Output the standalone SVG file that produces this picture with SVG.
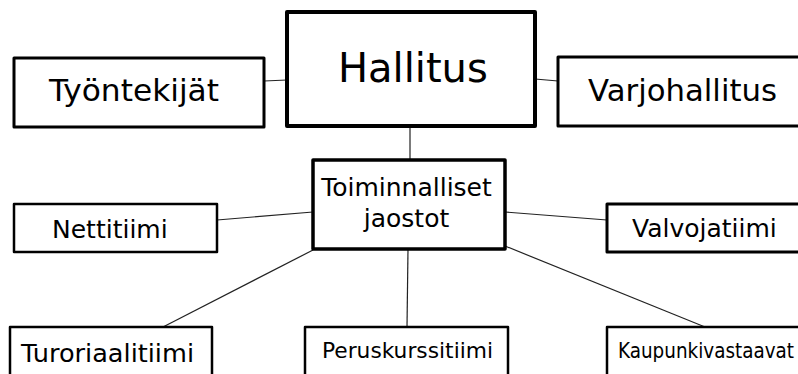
<svg xmlns="http://www.w3.org/2000/svg" width="798" height="374" viewBox="0 0 798 374">
<style>
.box{fill:#fff;stroke:#000;stroke-linejoin:round}
.t{font-family:"DejaVu Sans","Liberation Sans",sans-serif;fill:#000}
.c{font-family:"DejaVu Sans Condensed","DejaVu Sans","Liberation Sans",sans-serif;fill:#000}
#connectors line{stroke:#222;stroke-width:1.2}
</style>
<rect width="798" height="374" fill="#fff"/>
<g id="connectors">
<line x1="264" y1="81" x2="287" y2="80"/>
<line x1="535" y1="79" x2="558" y2="81"/>
<line x1="410" y1="126" x2="410" y2="160"/>
<line x1="217" y1="220" x2="313" y2="212"/>
<line x1="505" y1="212" x2="607" y2="220"/>
<line x1="313" y1="250" x2="163" y2="327"/>
<line x1="408" y1="249" x2="407" y2="327"/>
<line x1="505" y1="246" x2="710" y2="329"/>
</g>
<g id="hallitus">
<rect class="box" x="287" y="12" width="248" height="114" stroke-width="4"/>
<text class="t" x="338" y="82" font-size="40">Hallitus</text>
</g>
<g id="tyontekijat">
<rect class="box" x="14" y="58" width="250" height="69" stroke-width="3"/>
<text class="t" x="49" y="101" font-size="30" textLength="170" lengthAdjust="spacingAndGlyphs">Työntekijät</text>
</g>
<g id="varjohallitus">
<rect class="box" x="558" y="57" width="260" height="69" stroke-width="3"/>
<text class="t" x="588" y="101" font-size="30" textLength="189" lengthAdjust="spacingAndGlyphs">Varjohallitus</text>
</g>
<g id="toiminnalliset">
<rect class="box" x="313" y="160" width="192" height="89" stroke-width="3.5"/>
<text class="t" x="406.5" y="196" font-size="25" text-anchor="middle">Toiminnalliset</text>
<text class="t" x="406.5" y="227" font-size="25" text-anchor="middle">jaostot</text>
</g>
<g id="nettitiimi">
<rect class="box" x="14" y="204" width="203" height="48" stroke-width="2.5"/>
<text class="t" x="52" y="238" font-size="25">Nettitiimi</text>
</g>
<g id="valvojatiimi">
<rect class="box" x="607" y="204" width="210" height="48" stroke-width="3"/>
<text class="t" x="632" y="237" font-size="25">Valvojatiimi</text>
</g>
<g id="turoriaalitiimi">
<rect class="box" x="10" y="327" width="202" height="60" stroke-width="2.5"/>
<text class="t" x="21" y="362" font-size="25" textLength="173" lengthAdjust="spacingAndGlyphs">Turoriaalitiimi</text>
</g>
<g id="peruskurssitiimi">
<rect class="box" x="305" y="327" width="203" height="60" stroke-width="2.5"/>
<text class="c" x="322" y="358" font-size="22" textLength="171" lengthAdjust="spacingAndGlyphs">Peruskurssitiimi</text>
</g>
<g id="kaupunkivastaavat">
<rect class="box" x="607" y="327" width="210" height="60" stroke-width="2.5"/>
<text class="c" x="618" y="358" font-size="22" textLength="176" lengthAdjust="spacingAndGlyphs">Kaupunkivastaavat</text>
</g>
</svg>
